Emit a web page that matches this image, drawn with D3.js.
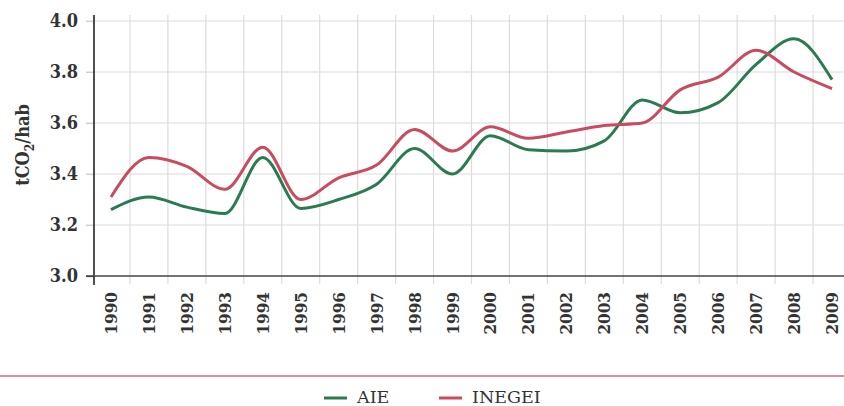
<!DOCTYPE html>
<html>
<head>
<meta charset="utf-8">
<script src="https://cdn.jsdelivr.net/npm/d3@7"></script>
<style>
  body { margin: 0; background: #fff; }
  svg text { font-family: "DejaVu Serif", serif; }
  svg text.cond { font-family: "DejaVu Serif Condensed", "DejaVu Serif", serif; font-stretch: condensed; }
</style>
</head>
<body>
<svg id="chart"></svg>
<script>
const years = ["1990","1991","1992","1993","1994","1995","1996","1997","1998","1999",
               "2000","2001","2002","2003","2004","2005","2006","2007","2008","2009"];
const aie =    [3.26, 3.31, 3.27, 3.245, 3.465, 3.265, 3.30, 3.36, 3.50, 3.40,
                3.55, 3.495, 3.49, 3.53, 3.69, 3.64, 3.68, 3.83, 3.93, 3.77];
const inegei = [3.31, 3.465, 3.43, 3.34, 3.505, 3.30, 3.385, 3.435, 3.575, 3.49,
                3.585, 3.54, 3.565, 3.59, 3.60, 3.73, 3.78, 3.885, 3.80, 3.735];
const yTicks = [3.0, 3.2, 3.4, 3.6, 3.8, 4.0];
const seriesNames = ["AIE", "INEGEI"];
const seriesColors = ["#2a7b50", "#c84b5f"];

const W = 844, H = 406;
const svg = d3.select("#chart").attr("width", W).attr("height", H);

const x = d3.scaleBand().domain(years).range([92, 851]);
const y = d3.scaleLinear().domain([3.0, 4.0]).range([276, 21]);
const xc = d => x(d) + x.bandwidth() / 2;

// horizontal grid
svg.append("g")
  .selectAll("line")
  .data(yTicks.slice(1))
  .enter().append("line")
  .attr("x1", 86).attr("x2", W)
  .attr("y1", d => y(d)).attr("y2", d => y(d))
  .attr("stroke", "#dcdcdc").attr("stroke-width", 1.2);

// vertical grid at band boundaries
svg.append("g")
  .selectAll("line")
  .data(years.slice(1))
  .enter().append("line")
  .attr("x1", d => x(d)).attr("x2", d => x(d))
  .attr("y1", 15).attr("y2", 284)
  .attr("stroke", "#dcdcdc").attr("stroke-width", 1.2);

// y axis
const yAxis = svg.append("g")
  .attr("transform", "translate(94,0)")
  .call(d3.axisLeft(y).tickValues(yTicks).tickFormat(d3.format(".1f")).tickSize(8).tickPadding(8))
  .attr("font-family", null);
yAxis.select(".domain").remove();
yAxis.selectAll(".tick line").attr("stroke", "#cfcfcf").attr("stroke-width", 1.2);
yAxis.select(".tick line").attr("stroke", "#333");
yAxis.selectAll("text")
  .attr("class", "cond")
  .style("font-size", "18px").style("font-weight", "bold").attr("fill", "#333");
svg.append("line")
  .attr("x1", 94).attr("x2", 94).attr("y1", 15).attr("y2", 285)
  .attr("stroke", "#222").attr("stroke-width", 1.6);

// x axis
svg.append("line")
  .attr("x1", 86).attr("x2", W).attr("y1", 276).attr("y2", 276)
  .attr("stroke", "#444").attr("stroke-width", 1.6);
svg.append("g")
  .selectAll("text")
  .data(years)
  .enter().append("text")
  .attr("class", "cond")
  .attr("transform", d => `translate(${xc(d) + 6},292) rotate(-90)`)
  .attr("text-anchor", "end")
  .style("font-size", "17px").style("font-weight", "bold").attr("fill", "#333")
  .text(d => d);

// y title
const title = svg.append("text")
  .attr("class", "cond")
  .attr("transform", "translate(29,145) rotate(-90)")
  .attr("text-anchor", "middle")
  .style("font-size", "18px").style("font-weight", "bold").attr("fill", "#333");
title.append("tspan").text("tCO");
title.append("tspan").attr("dy", 5).style("font-size", "12px").text("2");
title.append("tspan").attr("dy", -5).text("/hab");

// lines
const line = d3.line()
  .x((d, i) => xc(years[i]))
  .y(d => y(d))
  .curve(d3.curveMonotoneX);

[aie, inegei].forEach((vals, k) => {
  svg.append("path")
    .datum(vals)
    .attr("d", line)
    .attr("fill", "none")
    .attr("stroke", seriesColors[k])
    .attr("stroke-width", 3);
});

// separator
svg.append("line")
  .attr("x1", 0).attr("x2", W).attr("y1", 376).attr("y2", 376)
  .attr("stroke", "#d2677a").attr("stroke-width", 1.5);

// legend
const legendX = [324, 439];
seriesNames.forEach((name, k) => {
  const g = svg.append("g").attr("transform", `translate(${legendX[k]},398)`);
  g.append("line").attr("x1", 0).attr("x2", 23).attr("y1", 0).attr("y2", 0)
    .attr("stroke", seriesColors[k]).attr("stroke-width", 3);
  g.append("text").attr("x", 33).attr("y", 5)
    .style("font-size", "17.5px").attr("fill", "#333").text(name);
});
</script>
</body>
</html>
